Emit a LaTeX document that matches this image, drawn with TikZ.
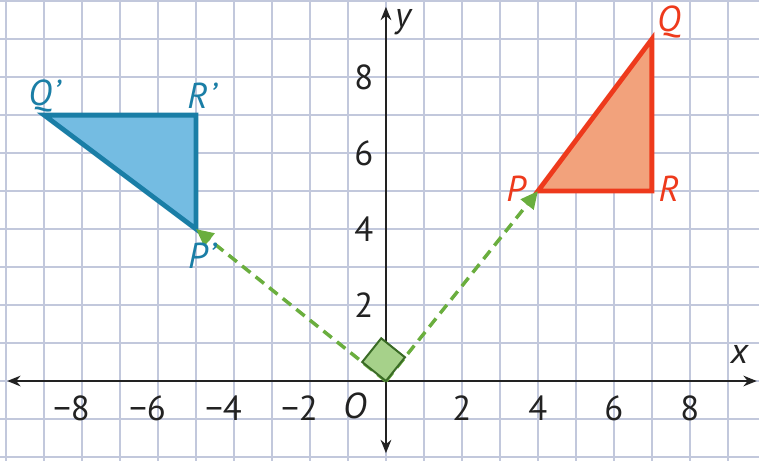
\documentclass[tikz,border=0pt]{standalone}
\usepackage{fontspec}
\setmainfont{PT Sans}
\newcommand{\myprime}{\kern1pt\char"0027}
\usetikzlibrary{arrows.meta}
\definecolor{gridc}{HTML}{C2C8DC}
\definecolor{redS}{HTML}{EE3A1C}
\definecolor{redF}{HTML}{F2A27C}
\definecolor{blueS}{HTML}{1A7EA6}
\definecolor{blueF}{HTML}{74BCE2}
\definecolor{greenS}{HTML}{6AAE3E}
\definecolor{greenF}{HTML}{A6D18A}
\definecolor{greenD}{HTML}{3A6B26}
\definecolor{axisc}{HTML}{222222}
\begin{document}
\begin{tikzpicture}[
  lab/.style={font=\fontsize{27}{30}\selectfont\itshape},
  num/.style={font=\fontsize{26}{29}\selectfont, text=axisc},
  tri/.style={line width=3.6pt, line join=miter},
  vec/.style={greenS, line width=2.6pt, dash pattern=on 8pt off 5pt, -{Triangle[length=13pt,width=12pt]}},
  ax/.style={axisc, line width=1.3pt, -{Stealth[length=10pt,width=8pt]}}
]
\useasboundingbox (-10.16,-2.1) rectangle (9.82,10.03);
\clip (-10.16,-2.1) rectangle (9.82,10.03);
\fill[white] (-10.16,-2.1) rectangle (9.82,10.03);
\draw[gridc, line width=1.3pt] (-11,-3) grid (11,11);
% axes
\coordinate (O) at (0,0);
\coordinate (xl) at (-9.97,0);
\coordinate (xr) at (9.76,0);
\coordinate (yt) at (0,9.85);
\coordinate (yb) at (0,-1.9);
\draw[ax] (O) -- (xr);
\draw[ax] (O) -- (xl);
\draw[ax] (O) -- (yt);
\draw[ax] (O) -- (yb);
\node[lab, text=axisc] (xlab) at (9.3,0.7) {x};
\node[lab, text=axisc] (ylab) at (0.45,9.45) {y};
\node[lab, text=axisc] (olab) at (-0.82,-0.65) {O};
% tick labels
\foreach \v in {2,4,6,8} {
  \node[num] (xt\v) at (\v,-0.72) {\v};
  \node[num, anchor=east] (xn\v) at (-\v+0.33,-0.72) {−\v};
  \node[num] (yt\v) at (-0.58,\v) {\v};
}
% triangles
\coordinate (P) at (4,5);
\coordinate (Q) at (7,9);
\coordinate (R) at (7,5);
\coordinate (P1) at (-5,4);
\coordinate (Q1) at (-9,7);
\coordinate (R1) at (-5,7);
\filldraw[tri, draw=redS, fill=redF] (P) -- (Q) -- (R) -- cycle;
\filldraw[tri, draw=blueS, fill=blueF] (P1) -- (Q1) -- (R1) -- cycle;
% vectors
\draw[vec] (O) -- (P);
\draw[vec] (O) -- (P1);
% right angle mark
\filldraw[greenD, fill=greenF, line width=1.5pt, line join=miter] (O) -- (0.5,0.625) -- (-0.125,1.125) -- (-0.625,0.5) -- cycle;
% labels
\node[lab, text=redS] (Plab) at (3.42,5.05) {P};
\node[lab, text=redS] (Qlab) at (7.45,9.45) {Q};
\node[lab, text=redS] (Rlab) at (7.45,5.05) {R};
\node[lab, text=blueS] (P1lab) at (-4.85,3.3) {P\myprime};
\node[lab, text=blueS] (Q1lab) at (-9.0,7.5) {Q\myprime};
\node[lab, text=blueS] (R1lab) at (-4.85,7.5) {R\myprime};
\end{tikzpicture}
\end{document}
